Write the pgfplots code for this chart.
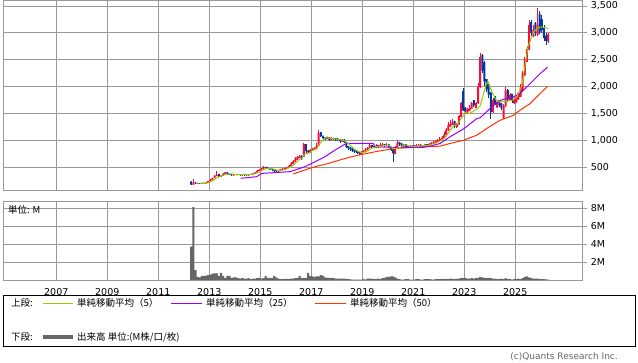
\documentclass[border=0pt]{standalone}
\usepackage{fontspec}
\setmainfont{DejaVu Sans}
\newfontfamily\jp{Noto Sans CJK JP}
\usepackage{pgfplots}
\usepackage{pgfplotstable}
\pgfplotsset{compat=1.18}
\definecolor{upc}{HTML}{FF0A3C}
\definecolor{dnc}{HTML}{003A9E}
\definecolor{ma5c}{HTML}{99CC00}
\definecolor{ma25c}{HTML}{9900FF}
\definecolor{ma50c}{HTML}{FF3300}
\definecolor{volc}{HTML}{666666}
\definecolor{grd}{HTML}{999999}

\pgfplotstableread{
x o h l c
2012.292 235 240 165 180
2012.375 178 285 175 215
2012.458 220 222 195 200
2012.542 195 212 192 205
2012.625 208 210 190 198
2012.708 196 215 195 208
2012.792 211 212 198 203
2012.875 201 222 200 215
2012.958 212 252 210 245
2013.042 242 285 240 270
2013.125 265 310 262 300
2013.208 298 355 295 340
2013.292 338 430 335 365
2013.375 378 380 325 335
2013.458 325 360 322 350
2013.542 347 395 345 385
2013.625 380 420 378 405
2013.708 408 410 365 375
2013.792 383 385 355 365
2013.875 370 372 345 355
2013.958 352 370 350 362
2014.042 357 380 355 372
2014.125 376 378 358 365
2014.208 368 370 348 358
2014.292 354 375 352 368
2014.375 371 372 355 362
2014.458 365 366 350 357
2014.542 354 372 352 365
2014.625 362 380 360 372
2014.708 368 395 366 385
2014.792 382 420 380 405
2014.875 402 455 400 440
2014.958 433 470 430 455
2015.042 448 490 445 475
2015.125 472 520 470 505
2015.208 510 512 480 490
2015.292 496 498 462 470
2015.375 478 480 450 460
2015.458 468 470 445 455
2015.542 460 462 420 440
2015.625 448 450 410 425
2015.708 420 450 418 440
2015.792 437 472 435 465
2015.875 458 480 455 470
2015.958 465 495 462 485
2016.042 473 510 470 500
2016.125 493 545 490 530
2016.208 523 590 520 570
2016.292 563 640 560 610
2016.375 603 690 600 660
2016.458 645 710 640 690
2016.542 673 730 670 710
2016.625 718 720 640 660
2016.708 700 960 690 930
2016.792 930 940 770 800
2016.875 812 815 760 780
2016.958 774 840 770 820
2017.042 805 850 800 830
2017.125 818 880 815 860
2017.208 853 960 850 900
2017.292 895 1190 890 1140
2017.375 1155 1160 1060 1080
2017.458 1088 1090 1020 1040
2017.542 1055 1060 1010 1030
2017.625 1023 1070 1020 1050
2017.708 1057 1060 990 1010
2017.792 1003 1055 1000 1040
2017.875 1048 1050 1015 1030
2017.958 1040 1045 995 1010
2018.042 1035 1040 990 1000
2018.125 1015 1020 960 985
2018.208 978 1030 975 1010
2018.292 1015 1020 950 970
2018.375 975 980 860 880
2018.458 895 900 820 850
2018.542 865 870 800 830
2018.625 845 850 780 800
2018.708 825 830 770 790
2018.792 805 810 740 770
2018.875 785 790 730 760
2018.958 745 800 740 780
2019.042 773 830 770 800
2019.125 793 850 790 830
2019.208 820 880 815 860
2019.292 855 940 850 910
2019.375 917 920 860 880
2019.458 895 900 850 870
2019.542 863 940 860 905
2019.625 912 915 850 880
2019.708 873 950 870 915
2019.792 905 960 900 925
2019.875 932 935 880 900
2019.958 893 950 890 915
2020.042 926 930 860 880
2020.125 895 900 800 820
2020.208 835 840 590 760
2020.292 745 890 740 870
2020.375 863 1000 860 950
2020.458 975 980 900 930
2020.542 945 950 880 900
2020.625 885 940 880 925
2020.708 932 935 860 880
2020.792 896 900 850 870
2020.875 863 910 860 890
2020.958 875 920 870 905
2021.042 912 915 860 880
2021.125 873 930 870 905
2021.208 893 940 890 915
2021.292 922 925 870 890
2021.375 883 920 880 900
2021.458 893 940 890 925
2021.542 932 935 895 910
2021.625 903 950 900 935
2021.708 928 970 925 950
2021.792 944 990 940 965
2021.875 958 1010 955 985
2021.958 978 1030 975 1005
2022.042 995 1060 990 1025
2022.125 1015 1080 1010 1050
2022.208 1045 1150 1040 1110
2022.292 1105 1240 1100 1200
2022.375 1190 1340 1180 1290
2022.458 1260 1380 1250 1310
2022.542 1290 1400 1280 1350
2022.625 1365 1370 1230 1260
2022.708 1245 1330 1240 1300
2022.792 1295 1480 1290 1450
2022.875 1440 1720 1430 1700
2022.958 1920 1970 1540 1560
2023.042 1610 1620 1500 1540
2023.125 1495 1600 1490 1580
2023.208 1545 1650 1540 1600
2023.292 1585 1720 1580 1700
2023.375 1750 1760 1620 1650
2023.458 1605 1720 1600 1700
2023.542 1690 2060 1680 2000
2023.625 1990 2620 1980 2550
2023.708 2590 2600 2250 2300
2023.792 2450 2480 2020 2100
2023.875 2140 2150 1900 1950
2023.958 2050 2080 1780 1850
2024.042 1890 1900 1400 1520
2024.125 1530 1780 1510 1750
2024.208 1810 1820 1650 1680
2024.292 1610 1740 1600 1720
2024.375 1755 1760 1620 1650
2024.458 1690 1700 1560 1600
2024.542 1420 1680 1390 1640
2024.625 1640 2000 1620 1930
2024.708 1940 1960 1720 1760
2024.792 1745 1880 1740 1850
2024.875 1865 1870 1700 1730
2024.958 1690 1800 1680 1760
2025.042 1710 1840 1700 1800
2025.125 1770 1900 1760 1880
2025.208 1810 2050 1800 1980
2025.292 1920 2300 1900 2250
2025.375 2210 2550 2200 2500
2025.458 2460 2750 2450 2700
2025.542 2690 3240 2680 3150
2025.625 3200 3230 2950 3000
2025.708 2930 3150 2920 3050
2025.792 3180 3200 2950 3000
2025.875 2960 3470 2950 3150
2025.958 3350 3400 2980 3020
2026.042 3250 3330 3000 3050
2026.125 3100 3150 2850 2900
2026.208 2950 3000 2780 2850
2026.292 2840 3000 2820 2970
}\ohlc

\pgfplotstableread{
x v
2012.292 3.7
2012.375 8.1
2012.458 1.1
2012.542 0.35
2012.625 0.3
2012.708 0.45
2012.792 0.45
2012.875 0.5
2012.958 0.55
2013.042 0.6
2013.125 0.7
2013.208 0.75
2013.292 0.75
2013.375 0.45
2013.458 0.8
2013.542 0.45
2013.625 0.25
2013.708 0.45
2013.792 0.45
2013.875 0.2
2013.958 0.3
2014.042 0.3
2014.125 0.2
2014.208 0.15
2014.292 0.2
2014.375 0.15
2014.458 0.15
2014.542 0.2
2014.625 0.1
2014.708 0.15
2014.792 0.15
2014.875 0.2
2014.958 0.25
2015.042 0.15
2015.125 0.2
2015.208 0.45
2015.292 0.25
2015.375 0.25
2015.458 0.2
2015.542 0.45
2015.625 0.3
2015.708 0.15
2015.792 0.1
2015.875 0.1
2015.958 0.12
2016.042 0.12
2016.125 0.12
2016.208 0.15
2016.292 0.15
2016.375 0.2
2016.458 0.25
2016.542 0.45
2016.625 0.25
2016.708 0.2
2016.792 0.25
2016.875 0.8
2016.958 0.45
2017.042 0.4
2017.125 0.35
2017.208 0.4
2017.292 0.4
2017.375 0.55
2017.458 0.5
2017.542 0.3
2017.625 0.25
2017.708 0.25
2017.792 0.25
2017.875 0.2
2017.958 0.15
2018.042 0.15
2018.125 0.15
2018.208 0.15
2018.292 0.15
2018.375 0.12
2018.458 0.1
2018.542 0.08
2018.625 0.05
2018.708 0.05
2018.792 0.05
2018.875 0.05
2018.958 0.05
2019.042 0.1
2019.125 0.05
2019.208 0.15
2019.292 0.15
2019.375 0.15
2019.458 0.1
2019.542 0.12
2019.625 0.15
2019.708 0.1
2019.792 0.2
2019.875 0.25
2019.958 0.35
2020.042 0.35
2020.125 0.4
2020.208 0.4
2020.292 0.3
2020.375 0.15
2020.458 0.1
2020.542 0.05
2020.625 0.05
2020.708 0.1
2020.792 0.1
2020.875 0.05
2020.958 0.05
2021.042 0.05
2021.125 0.1
2021.208 0.1
2021.292 0.05
2021.375 0.05
2021.458 0.1
2021.542 0.1
2021.625 0.1
2021.708 0.08
2021.792 0.05
2021.875 0.1
2021.958 0.1
2022.042 0.1
2022.125 0.1
2022.208 0.12
2022.292 0.12
2022.375 0.1
2022.458 0.15
2022.542 0.12
2022.625 0.1
2022.708 0.12
2022.792 0.15
2022.875 0.2
2022.958 0.2
2023.042 0.2
2023.125 0.15
2023.208 0.15
2023.292 0.2
2023.375 0.15
2023.458 0.2
2023.542 0.25
2023.625 0.35
2023.708 0.3
2023.792 0.25
2023.875 0.2
2023.958 0.25
2024.042 0.2
2024.125 0.15
2024.208 0.15
2024.292 0.1
2024.375 0.1
2024.458 0.15
2024.542 0.1
2024.625 0.2
2024.708 0.1
2024.792 0.1
2024.875 0.05
2024.958 0.1
2025.042 0.1
2025.125 0.15
2025.208 0.1
2025.292 0.2
2025.375 0.35
2025.458 0.4
2025.542 0.3
2025.625 0.2
2025.708 0.15
2025.792 0.15
2025.875 0.15
2025.958 0.1
2026.042 0.1
2026.125 0.1
2026.208 0.08
2026.292 0.05
}\voltab

\pgfplotsset{
  chartax/.style={
    scale only axis, width=579.3pt,
    xmin=2004.91, xmax=2027.63,
    grid=major, grid style={draw=grd, line width=0.8pt},
    axis line style={draw=grd, line width=0.8pt},
    xtick={2007,2009,...,2025},
    ytick pos=right, yticklabel pos=right,
    tick align=outside,
    xtick style={draw=none},
    ytick style={draw=grd, line width=0.8pt},
    major tick length=5pt,
    tick label style={font=\fontsize{9.5}{11}\selectfont},
    /pgf/number format/assume math mode=true,
  },
  candlewick/.style={draw=none, mark=none, forget plot,
    error bars/.cd, y dir=both, y explicit, error mark=none,
    error bar style={draw=#1, line width=0.8pt}},
}

\begin{document}
\begin{tikzpicture}
\useasboundingbox (0,0) rectangle (638pt,-362pt);

% ---------- price panel: grid + candle bodies ----------
\begin{axis}[chartax, at={(3pt,0pt)}, anchor=north west, height=190.3pt,
  ymin=72.5, ymax=3611, ytick={500,1000,...,3500},
  xticklabels={},
  /pgf/number format/1000 sep={,},
  ybar stacked, bar width=0.078,
]
\addplot[fill=none, draw=none] table[x=x, y expr={min(\thisrow{o},\thisrow{c})}]{\ohlc};
\addplot[fill=upc, draw=none] table[x=x, y expr={\thisrow{c}>=\thisrow{o} ? max(\thisrow{c}-\thisrow{o},14) : 0}]{\ohlc};
\addplot[fill=dnc, draw=none] table[x=x, y expr={\thisrow{c}<\thisrow{o} ? max(\thisrow{o}-\thisrow{c},14) : 0}]{\ohlc};
\end{axis}

% ---------- price panel: wicks + moving averages ----------
\begin{axis}[scale only axis, width=579.3pt, height=190.3pt,
  at={(3pt,0pt)}, anchor=north west,
  xmin=2004.91, xmax=2027.63, ymin=72.5, ymax=3611,
  axis lines=none, ticks=none]
\addplot[restrict expr to domain={\thisrow{c}-\thisrow{o}}{0:100000}, candlewick=upc]
  table[x=x, y expr={(\thisrow{h}+\thisrow{l})/2}, y error expr={(\thisrow{h}-\thisrow{l})/2}]{\ohlc};
\addplot[restrict expr to domain={\thisrow{c}-\thisrow{o}}{-100000:-0.5}, candlewick=dnc]
  table[x=x, y expr={(\thisrow{h}+\thisrow{l})/2}, y error expr={(\thisrow{h}-\thisrow{l})/2}]{\ohlc};

% MA 50
\addplot[ma50c, line width=1pt, mark=none] coordinates {
(2016.29,376) (2016.75,450) (2017.15,511) (2017.67,572) (2018.19,646) (2018.58,696)
(2018.98,739) (2019.50,789) (2020.02,832) (2020.28,850) (2021.39,882) (2022.05,893)
(2022.44,943) (2022.99,1004) (2023.49,1098) (2024.01,1260) (2024.40,1373) (2024.92,1466)
(2025.18,1560) (2025.58,1684) (2025.97,1869) (2026.27,2004)};
% MA 25
\addplot[ma25c, line width=1pt, mark=none] coordinates {
(2014.24,296) (2014.86,326) (2015.05,387) (2016.16,419) (2016.36,450) (2016.75,511)
(2017.15,604) (2017.54,697) (2017.93,820) (2018.25,911) (2018.39,944) (2019.43,944)
(2019.50,882) (2020.28,870) (2021.38,870) (2021.65,893) (2022.05,943) (2022.44,1067)
(2022.99,1220) (2023.49,1405) (2023.62,1420) (2024.00,1590) (2024.40,1745) (2024.91,1807)
(2025.18,1869) (2025.58,2054) (2025.97,2240) (2026.27,2363)};
% MA 5
\addplot[ma5c, line width=1pt, mark=none] coordinates {
(2012.625,200) (2012.708,205) (2012.792,203) (2012.875,206) (2012.958,214)
(2013.042,228) (2013.125,247) (2013.208,274) (2013.292,304) (2013.375,322) (2013.458,338)
(2013.542,355) (2013.625,368) (2013.708,370) (2013.792,376) (2013.875,377) (2013.958,372)
(2014.042,366) (2014.125,364) (2014.208,362) (2014.292,365) (2014.375,365) (2014.458,362)
(2014.542,362) (2014.625,365) (2014.708,368) (2014.792,377) (2014.875,393) (2014.958,411)
(2015.042,432) (2015.125,456) (2015.208,473) (2015.292,479) (2015.375,480) (2015.458,476)
(2015.542,463) (2015.625,450) (2015.708,444) (2015.792,445) (2015.875,448) (2015.958,457)
(2016.042,472) (2016.125,490) (2016.208,511) (2016.292,539) (2016.375,574) (2016.458,612)
(2016.542,648) (2016.625,666) (2016.708,730) (2016.792,750) (2016.875,760) (2016.958,780)
(2017.042,810) (2017.125,830) (2017.208,838) (2017.292,910) (2017.375,962) (2017.458,1004)
(2017.542,1038) (2017.625,1068) (2017.708,1042) (2017.792,1034) (2017.875,1032) (2017.958,1028)
(2018.042,1018) (2018.125,1013) (2018.208,1007) (2018.292,995) (2018.375,969) (2018.458,939)
(2018.542,908) (2018.625,866) (2018.708,830) (2018.792,808) (2018.875,790) (2018.958,780)
(2019.042,780) (2019.125,788) (2019.208,806) (2019.292,836) (2019.375,856) (2019.458,870)
(2019.542,885) (2019.625,889) (2019.708,890) (2019.792,899) (2019.875,905) (2019.958,907)
(2020.042,907) (2020.125,888) (2020.208,855) (2020.292,849) (2020.375,856) (2020.458,866)
(2020.542,882) (2020.625,915) (2020.708,917) (2020.792,901) (2020.875,893) (2020.958,894)
(2021.042,885) (2021.125,890) (2021.208,899) (2021.292,899) (2021.375,898) (2021.458,907)
(2021.542,908) (2021.625,912) (2021.708,924) (2021.792,937) (2021.875,949) (2021.958,968)
(2022.042,986) (2022.125,1006) (2022.208,1035) (2022.292,1078) (2022.375,1135) (2022.458,1192)
(2022.542,1252) (2022.625,1282) (2022.708,1302) (2022.792,1334) (2022.875,1412) (2022.958,1454)
(2023.042,1520) (2023.21,1500) (2023.49,1580) (2023.62,1640) (2023.75,1850) (2023.85,2030)
(2023.93,2090) (2024.00,2000) (2024.12,1870) (2024.27,1740) (2024.40,1720) (2024.67,1730)
(2024.90,1750) (2025.06,1810) (2025.25,2000) (2025.38,2370) (2025.50,2740) (2025.70,3000)
(2025.90,3100) (2026.03,3110) (2026.23,3090) (2026.29,3080)};
\end{axis}

% ---------- volume panel ----------
\begin{axis}[chartax, at={(3pt,-201pt)}, anchor=north west, height=79pt,
  ymin=0, ymax=8.78, ytick={2,4,6,8}, yticklabels={2M,4M,6M,8M},
  xticklabels={2007,2009,2011,2013,2015,2017,2019,2021,2023,2025},
]
\addplot[ybar, bar width=0.0833, fill=volc, draw=none] table[x=x, y=v]{\voltab};
\end{axis}

\node[anchor=west, inner sep=0pt, font=\jp\fontsize{9.5}{11}\selectfont] at (8pt,-210pt) {単位: M};

% ---------- legend ----------
\draw[black, line width=0.8pt] (3pt,-295pt) rectangle (635pt,-346pt);
\begin{scope}[every node/.style={anchor=west, inner sep=0pt, font=\jp\fontsize{9.5}{11}\selectfont}]
\node at (11pt,-303pt) {上段:};
\draw[ma5c, line width=1pt] (43pt,-303pt) -- (73pt,-303pt);
\node at (77pt,-303pt) {単純移動平均（5）};
\draw[ma25c, line width=1pt] (171pt,-303pt) -- (202pt,-303pt);
\node at (206pt,-303pt) {単純移動平均（25）};
\draw[ma50c, line width=1pt] (315pt,-303pt) -- (346pt,-303pt);
\node at (350pt,-303pt) {単純移動平均（50）};
\node at (11pt,-337pt) {下段:};
\draw[volc, line width=3.5pt] (43pt,-337pt) -- (73pt,-337pt);
\node at (77pt,-337pt) {出来高 単位:(M株/口/枚)};
\end{scope}

\node[anchor=east, inner sep=0pt, text=volc, font=\fontsize{9}{10}\selectfont] at (618pt,-357pt) {(c)Quants Research Inc.};
\end{tikzpicture}
\end{document}
